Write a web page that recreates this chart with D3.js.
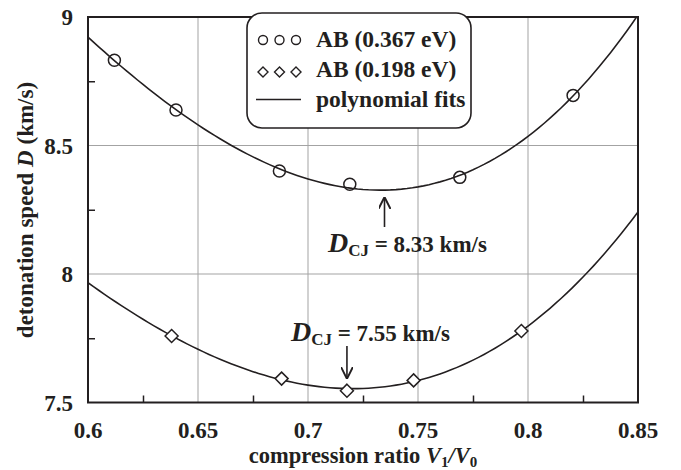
<!DOCTYPE html>
<html>
<head>
<meta charset="utf-8">
<script src="https://cdn.jsdelivr.net/npm/d3@7"></script>
<style>
  body { margin: 0; background: #fff; }
  svg text { font-family: "Liberation Serif", "Times New Roman", serif; font-weight: bold; fill: #231f20; }
</style>
</head>
<body>
<div id="chart"></div>
<script>
// Chart size
const w = 681;
const h = 470;

// Data
const ratioHigh = [0.612, 0.640, 0.687, 0.719, 0.769, 0.8205];
const speedHigh = [8.832, 8.638, 8.401, 8.349, 8.376, 8.695];
const ratioLow = [0.638, 0.688, 0.7177, 0.748, 0.797];
const speedLow = [7.759, 7.593, 7.546, 7.586, 7.778];
const xTicks = [0.6, 0.65, 0.7, 0.75, 0.8, 0.85];
const yTicks = [7.5, 8, 8.5, 9];
const legendLabels = ["AB (0.367 eV)", "AB (0.198 eV)", "polynomial fits"];
const cjHigh = { x: 0.735, y: 8.33, label: "8.33 km/s" };
const cjLow = { x: 0.7177, y: 7.55, label: "7.55 km/s" };

// Least squares polynomial fit, returns coefficients c0..cn
function polyFit(xs, ys, deg) {
    const n = deg + 1;
    const A = Array.from({ length: n }, () => new Array(n + 1).fill(0));
    xs.forEach((x, k) => {
        for (let i = 0; i < n; i++) {
            for (let j = 0; j < n; j++) A[i][j] += Math.pow(x, i + j);
            A[i][n] += ys[k] * Math.pow(x, i);
        }
    });
    for (let i = 0; i < n; i++) {
        let p = i;
        for (let r = i + 1; r < n; r++) if (Math.abs(A[r][i]) > Math.abs(A[p][i])) p = r;
        [A[i], A[p]] = [A[p], A[i]];
        for (let r = 0; r < n; r++) {
            if (r === i) continue;
            const f = A[r][i] / A[i][i];
            for (let c = i; c <= n; c++) A[r][c] -= f * A[i][c];
        }
    }
    return A.map((row, i) => row[n] / row[i]);
}
const polyVal = (c, x) => c.reduce((s, v, i) => s + v * Math.pow(x, i), 0);

const svg = d3.select("#chart")
    .append("svg")
    .attr("width", w)
    .attr("height", h);

const xScale = d3.scaleLinear().domain([0.6, 0.85]).range([88, 638]);
const yScale = d3.scaleLinear().domain([7.5, 9]).range([402.5, 17]);

// Grid lines
svg.append("g")
    .selectAll("line")
    .data(xTicks.slice(1, -1))
    .join("line")
    .attr("x1", d => xScale(d)).attr("x2", d => xScale(d))
    .attr("y1", yScale(7.5)).attr("y2", yScale(9))
    .attr("stroke", "#a3a3a3").attr("stroke-width", 1);

svg.append("g")
    .selectAll("line")
    .data(yTicks.slice(1, -1))
    .join("line")
    .attr("x1", xScale(0.6)).attr("x2", xScale(0.85))
    .attr("y1", d => yScale(d)).attr("y2", d => yScale(d))
    .attr("stroke", "#a3a3a3").attr("stroke-width", 1);

// Axes (ticks inward, minor ticks between majors)
const xAxis = d3.axisBottom(xScale)
    .tickValues(d3.range(0.625, 0.85, 0.05))
    .tickSize(-7).tickFormat("");
const yAxis = d3.axisLeft(yScale)
    .tickValues([7.75, 8.25, 8.75])
    .tickSize(-7).tickFormat("");

svg.append("g")
    .attr("transform", `translate(0,${yScale(7.5)})`)
    .call(xAxis)
    .call(g => g.select(".domain").remove())
    .selectAll("line").attr("stroke", "#231f20").attr("stroke-width", 1.5);

svg.append("g")
    .attr("transform", `translate(${xScale(0.6)},0)`)
    .call(yAxis)
    .call(g => g.select(".domain").remove())
    .selectAll("line").attr("stroke", "#231f20").attr("stroke-width", 1.5);

// Frame
svg.append("rect")
    .attr("x", xScale(0.6)).attr("y", yScale(9))
    .attr("width", xScale(0.85) - xScale(0.6))
    .attr("height", yScale(7.5) - yScale(9))
    .attr("fill", "none").attr("stroke", "#231f20").attr("stroke-width", 2);

// Tick labels
svg.append("g")
    .selectAll("text")
    .data(xTicks)
    .join("text")
    .attr("x", d => xScale(d))
    .attr("y", 438)
    .attr("text-anchor", "middle")
    .attr("font-size", "23px")
    .text(d => d);

svg.append("g")
    .selectAll("text")
    .data(yTicks)
    .join("text")
    .attr("x", 73)
    .attr("y", d => yScale(d) + 8)
    .attr("text-anchor", "end")
    .attr("font-size", "23px")
    .text(d => d);

// Axis titles
const xt = svg.append("text")
    .attr("x", 363).attr("y", 463)
    .attr("text-anchor", "middle")
    .attr("font-size", "22.5px");
xt.append("tspan").text("compression ratio ");
xt.append("tspan").attr("font-style", "italic").text("V");
xt.append("tspan").attr("font-size", "15px").attr("dy", 4).text("1");
xt.append("tspan").attr("dy", -4).attr("font-style", "italic").text("/V");
xt.append("tspan").attr("font-size", "15px").attr("dy", 4).text("0");

const yt = svg.append("text")
    .attr("transform", "translate(33,210) rotate(-90)")
    .attr("text-anchor", "middle")
    .attr("font-size", "23px");
yt.append("tspan").text("detonation speed  ");
yt.append("tspan").attr("font-style", "italic").text("D");
yt.append("tspan").text("  (km/s)");

// Fit curves
svg.append("clipPath").attr("id", "plot-clip")
    .append("rect")
    .attr("x", xScale(0.6)).attr("y", yScale(9))
    .attr("width", xScale(0.85) - xScale(0.6))
    .attr("height", yScale(7.5) - yScale(9));

const line = d3.line().x(d => xScale(d[0])).y(d => yScale(d[1]));
const xsFine = d3.range(0.6, 0.8501, 0.0025);
[[ratioHigh, speedHigh], [ratioLow, speedLow]].forEach(([xs, ys]) => {
    const c = polyFit(xs, ys, 3);
    svg.append("path")
        .datum(xsFine.map(x => [x, polyVal(c, x)]))
        .attr("clip-path", "url(#plot-clip)")
        .attr("d", line)
        .attr("fill", "none")
        .attr("stroke", "#231f20")
        .attr("stroke-width", 1.6);
});

// Markers
const diamond = r => `M0,${-r}L${r},0L0,${r}L${-r},0Z`;

svg.append("g")
    .selectAll("circle")
    .data(ratioHigh.map((x, i) => [x, speedHigh[i]]))
    .join("circle")
    .attr("cx", d => xScale(d[0]))
    .attr("cy", d => yScale(d[1]))
    .attr("r", 6)
    .attr("fill", "none")
    .attr("stroke", "#231f20")
    .attr("stroke-width", 1.5);

svg.append("g")
    .selectAll("path")
    .data(ratioLow.map((x, i) => [x, speedLow[i]]))
    .join("path")
    .attr("transform", d => `translate(${xScale(d[0])},${yScale(d[1])})`)
    .attr("d", diamond(6.5))
    .attr("fill", "#fff")
    .attr("stroke", "#231f20")
    .attr("stroke-width", 1.5);

// Arrows and CJ labels
svg.append("defs").append("marker")
    .attr("id", "arrow")
    .attr("viewBox", "0 0 10 10")
    .attr("refX", 9).attr("refY", 5)
    .attr("markerUnits", "userSpaceOnUse")
    .attr("orient", "auto")
    .attr("markerWidth", 12).attr("markerHeight", 12)
    .append("path")
    .attr("d", "M0,0L10,5L0,10")
    .attr("fill", "none")
    .attr("stroke", "#231f20")
    .attr("stroke-width", 1.6);

function cjLabel(x, y, value) {
    const t = svg.append("text").attr("x", x).attr("y", y).attr("font-size", "23px");
    t.append("tspan").attr("font-style", "italic").attr("font-size", "28px").text("D");
    t.append("tspan").attr("font-size", "17px").attr("dy", 4).text("CJ");
    t.append("tspan").attr("dy", -4).text(" = " + value);
}

svg.append("line")
    .attr("x1", xScale(cjHigh.x) - 0.5).attr("x2", xScale(cjHigh.x) - 0.5)
    .attr("y1", 227).attr("y2", yScale(cjHigh.y) + 9)
    .attr("stroke", "#231f20").attr("stroke-width", 1.6)
    .attr("marker-end", "url(#arrow)");
cjLabel(328, 252, cjHigh.label);

svg.append("line")
    .attr("x1", xScale(cjLow.x)).attr("x2", xScale(cjLow.x))
    .attr("y1", 346).attr("y2", yScale(cjLow.y) - 12)
    .attr("stroke", "#231f20").attr("stroke-width", 1.6)
    .attr("marker-end", "url(#arrow)");
cjLabel(291, 341, cjLow.label);

// Legend
const lg = svg.append("g");
lg.append("rect")
    .attr("x", 247).attr("y", 13)
    .attr("width", 224).attr("height", 115)
    .attr("rx", 15).attr("ry", 15)
    .attr("fill", "#fff")
    .attr("stroke", "#231f20")
    .attr("stroke-width", 1.6);

const symX = [263, 279.5, 296];
lg.selectAll("circle")
    .data(symX)
    .join("circle")
    .attr("cx", d => d).attr("cy", 40)
    .attr("r", 4.5)
    .attr("fill", "none").attr("stroke", "#231f20").attr("stroke-width", 1.4);

lg.selectAll("path.sym")
    .data(symX)
    .join("path")
    .attr("class", "sym")
    .attr("transform", d => `translate(${d},72)`)
    .attr("d", diamond(5))
    .attr("fill", "none").attr("stroke", "#231f20").attr("stroke-width", 1.4);

lg.append("line")
    .attr("x1", 256).attr("x2", 301)
    .attr("y1", 99.5).attr("y2", 99.5)
    .attr("stroke", "#231f20").attr("stroke-width", 1.4);

lg.selectAll("text")
    .data(legendLabels)
    .join("text")
    .attr("x", 316)
    .attr("y", (d, i) => 47 + i * 30)
    .attr("font-size", "23.5px")
    .text(d => d);
</script>
</body>
</html>
